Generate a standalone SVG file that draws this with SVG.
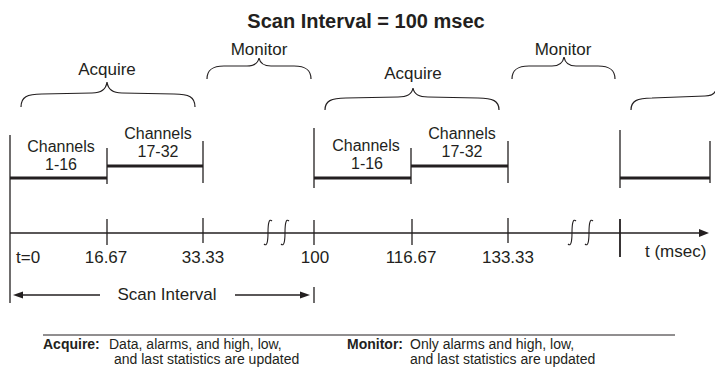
<svg xmlns="http://www.w3.org/2000/svg" width="715" height="370" viewBox="0 0 715 370">
<style>
  .t { font-family: "Liberation Sans", Arial, sans-serif; fill: #231f20; }
  .title { font-size: 20px; font-weight: bold; }
  .lbl { font-size: 17px; }
  .ch { font-size: 16px; }
  .leg { font-size: 14px; }
  .b { font-weight: bold; }
  .thin { stroke: #231f20; stroke-width: 1.3; fill: none; }
  .thick { stroke: #231f20; stroke-width: 3; fill: none; }
  .brace { stroke: #231f20; stroke-width: 1.2; fill: none; }
  .brk { stroke: #231f20; stroke-width: 1.1; fill: none; }
  .ah { fill: #231f20; }
</style>
<rect width="715" height="370" fill="#ffffff"/>

<g id="title">
  <text class="t title" x="366" y="28" text-anchor="middle">Scan Interval = 100 msec</text>
</g>

<g id="braces">
  <g id="acquire1">
    <path class="brace" d="M21,107 C21,97 27,94 42,94 L92,93 C101,93 106,90 107,82 C108,90 113,93 122,93 L174,94 C189,94 195,97 195,107"/>
    <text class="t lbl" x="107" y="75" text-anchor="middle">Acquire</text>
  </g>
  <g id="monitor1">
    <path class="brace" d="M207,79 C207,70 212,66 224,66 L247,66 C254,66 258,63 259,58 C260,63 264,66 271,66 L294,66 C306,66 311,70 311,79"/>
    <text class="t lbl" x="259" y="55" text-anchor="middle">Monitor</text>
  </g>
  <g id="acquire2">
    <path class="brace" d="M325,110 C325,101 331,98 346,98 L398,97 C407,97 412,94 413,88 C414,94 419,97 428,97 L478,98 C493,98 499,101 499,110"/>
    <text class="t lbl" x="413" y="79" text-anchor="middle">Acquire</text>
  </g>
  <g id="monitor2">
    <path class="brace" d="M512,79 C512,70 517,66 529,66 L552,66 C559,66 563,63 564,57 C565,63 569,66 576,66 L598,66 C610,66 615,70 615,79"/>
    <text class="t lbl" x="563" y="55" text-anchor="middle">Monitor</text>
  </g>
  <g id="acquire3">
    <path class="brace" d="M631,110 C631,101 637,98 652,98 L705,96 C712,96 715,93 716,90"/>
  </g>
</g>

<g id="channels">
  <g id="cycle1">
    <line class="thin" x1="10" y1="135" x2="10" y2="303"/>
    <line class="thin" x1="107" y1="148" x2="107" y2="184"/>
    <line class="thin" x1="203" y1="141" x2="203" y2="183"/>
    <line class="thick" x1="10" y1="178" x2="107" y2="178"/>
    <line class="thick" x1="107" y1="166" x2="203" y2="166"/>
    <text class="t ch" x="61" y="152" text-anchor="middle">Channels</text>
    <text class="t ch" x="61" y="170" text-anchor="middle">1-16</text>
    <text class="t ch" x="158" y="139" text-anchor="middle">Channels</text>
    <text class="t ch" x="158" y="157" text-anchor="middle">17-32</text>
  </g>
  <g id="cycle2">
    <line class="thin" x1="314" y1="128" x2="314" y2="188"/>
    <line class="thin" x1="411" y1="148" x2="411" y2="184"/>
    <line class="thin" x1="508" y1="141" x2="508" y2="183"/>
    <line class="thick" x1="314" y1="178" x2="411" y2="178"/>
    <line class="thick" x1="411" y1="166" x2="508" y2="166"/>
    <text class="t ch" x="366" y="151" text-anchor="middle">Channels</text>
    <text class="t ch" x="367" y="169" text-anchor="middle">1-16</text>
    <text class="t ch" x="462" y="139" text-anchor="middle">Channels</text>
    <text class="t ch" x="462" y="157" text-anchor="middle">17-32</text>
  </g>
  <g id="cycle3">
    <line class="thin" x1="620" y1="130" x2="620" y2="188"/>
    <line class="thin" x1="710" y1="141" x2="710" y2="183"/>
    <line class="thick" x1="620" y1="178" x2="710" y2="178"/>
  </g>
</g>

<g id="axis">
  <line class="thin" x1="10" y1="233" x2="701" y2="233"/>
  <polygon class="ah" points="699,229 709,233 699,237"/>
  <line class="thin" x1="107" y1="219" x2="107" y2="245"/>
  <line class="thin" x1="203" y1="218" x2="203" y2="243"/>
  <line class="thin" x1="314" y1="220" x2="314" y2="245"/>
  <line class="thin" x1="412" y1="219" x2="412" y2="245"/>
  <line class="thin" x1="508" y1="218" x2="508" y2="243"/>
  <line class="thin" x1="620" y1="219" x2="620" y2="257" style="stroke-width:1.8"/>
  <path class="brk" d="M272,221 C269,218 268,224 268,232.5 C268,241 267,247 264,244"/>
  <path class="brk" d="M289,221 C286,218 285,224 285,232.5 C285,241 284,247 281,244"/>
  <path class="brk" d="M576,221 C573,218 572,224 572,232.5 C572,241 571,247 568,244"/>
  <path class="brk" d="M593,221 C590,218 589,224 589,232.5 C589,241 588,247 585,244"/>
  <text class="t lbl" x="16" y="263">t=0</text>
  <text class="t lbl" x="106" y="263" text-anchor="middle">16.67</text>
  <text class="t lbl" x="203" y="263" text-anchor="middle">33.33</text>
  <text class="t lbl" x="315" y="263" text-anchor="middle">100</text>
  <text class="t lbl" x="411" y="263" text-anchor="middle">116.67</text>
  <text class="t lbl" x="508" y="263" text-anchor="middle">133.33</text>
  <text class="t lbl" x="645" y="257">t (msec)</text>
</g>

<g id="scan-interval">
  <line class="thin" x1="314" y1="287" x2="314" y2="303"/>
  <line class="thin" x1="20" y1="295" x2="100" y2="295"/>
  <polygon class="ah" points="13,295 23,291.5 23,298.5"/>
  <line class="thin" x1="235" y1="295" x2="302" y2="295"/>
  <polygon class="ah" points="310,295 300,291.5 300,298.5"/>
  <text class="t lbl" x="167" y="300" text-anchor="middle">Scan Interval</text>
</g>

<g id="legend">
  <line stroke="#231f20" stroke-width="1" x1="43" y1="335" x2="675" y2="335"/>
  <text class="t leg b" x="43" y="349">Acquire:</text>
  <text class="t leg" x="109" y="349">Data, alarms, and high, low,</text>
  <text class="t leg" x="114" y="364">and last statistics are updated</text>
  <text class="t leg b" x="403" y="349" text-anchor="end">Monitor:</text>
  <text class="t leg" x="410" y="349">Only alarms and high, low,</text>
  <text class="t leg" x="410" y="364">and last statistics are updated</text>
</g>
</svg>
